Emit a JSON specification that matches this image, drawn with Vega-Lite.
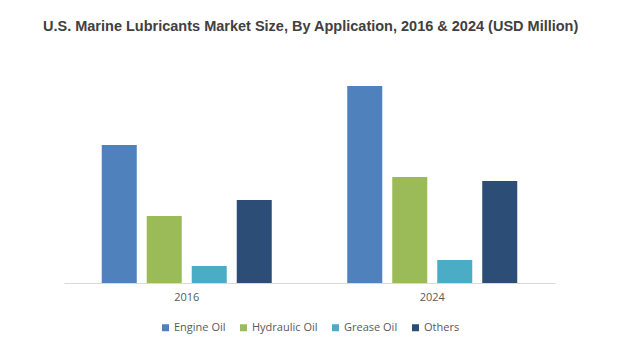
{
  "$schema": "https://vega.github.io/schema/vega-lite/v6.json",
  "autosize": "none",
  "width": 491,
  "height": 200,
  "padding": {"left": 64, "top": 83, "right": 83, "bottom": 79},
  "background": "white",
  "title": {
    "text": "U.S. Marine Lubricants Market Size, By Application, 2016 & 2024 (USD Million)",
    "anchor": "start",
    "frame": "group",
    "dx": -21,
    "offset": 49,
    "font": "Liberation Sans",
    "fontSize": 14.5,
    "fontWeight": "bold",
    "color": "#404040"
  },
  "data": {
    "values": [
      {"year": "2016", "application": "Engine Oil", "value": 138},
      {"year": "2016", "application": "Hydraulic Oil", "value": 67},
      {"year": "2016", "application": "Grease Oil", "value": 17},
      {"year": "2016", "application": "Others", "value": 83},
      {"year": "2024", "application": "Engine Oil", "value": 197},
      {"year": "2024", "application": "Hydraulic Oil", "value": 106},
      {"year": "2024", "application": "Grease Oil", "value": 23},
      {"year": "2024", "application": "Others", "value": 102}
    ]
  },
  "mark": {"type": "bar"},
  "encoding": {
    "x": {
      "field": "year",
      "type": "nominal",
      "scale": {"paddingInner": 0, "paddingOuter": 0},
      "axis": {
        "title": null,
        "labelAngle": 0,
        "ticks": false,
        "domainColor": "#d9d9d9",
        "domainWidth": 1,
        "labelFont": "Open Sans",
        "labelFontSize": 11,
        "labelColor": "#595959",
        "labelPadding": 8
      }
    },
    "xOffset": {
      "field": "application",
      "type": "nominal",
      "sort": ["Engine Oil", "Hydraulic Oil", "Grease Oil", "Others"],
      "scale": {"paddingInner": 0.222, "paddingOuter": 0.839}
    },
    "y": {
      "field": "value",
      "type": "quantitative",
      "scale": {"domain": [0, 200]},
      "axis": null
    },
    "color": {
      "field": "application",
      "type": "nominal",
      "sort": ["Engine Oil", "Hydraulic Oil", "Grease Oil", "Others"],
      "scale": {
        "domain": ["Engine Oil", "Hydraulic Oil", "Grease Oil", "Others"],
        "range": ["#4f81bd", "#9bbb59", "#4bacc6", "#2c4d75"]
      },
      "legend": {
        "title": null,
        "orient": "none",
        "direction": "horizontal",
        "legendX": 96,
        "legendY": 239,
        "symbolType": "square",
        "symbolSize": 49,
        "symbolStrokeWidth": 0,
        "labelFont": "Open Sans",
        "labelFontSize": 11,
        "labelColor": "#595959",
        "columnPadding": 12,
        "labelOffset": 3
      }
    }
  },
  "config": {
    "view": {"stroke": null}
  }
}
